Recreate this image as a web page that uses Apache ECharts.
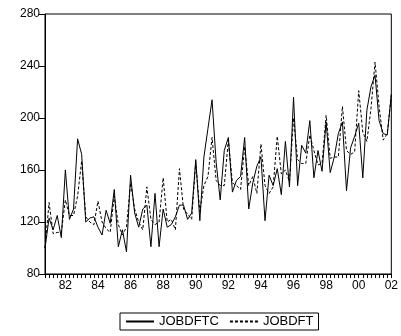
<!DOCTYPE html>
<html>
<head>
<meta charset="utf-8">
<script src="https://cdn.jsdelivr.net/npm/echarts@6/dist/echarts.min.js"></script>
<style>
  html, body { margin: 0; padding: 0; background: #fff; }
  #chart { width: 401px; height: 336px; }
</style>
</head>
<body>
<div id="chart"></div>
<script>
// Quarterly observations, 1980Q4 through 2002Q1
const startYear = 1980;
const startQuarter = 4;
const nObs = 86;

const jobdftc = [
  100, 123, 114, 125, 108, 160, 122, 130, 184, 172,
  120, 123, 124, 116, 110, 129, 119, 145, 101, 114,
  97, 156, 127, 116, 130, 133, 101, 142, 101, 130,
  116, 118, 124, 133, 133, 122, 127, 168, 121, 170,
  192, 214, 166, 137, 175, 185, 143, 152, 155, 185,
  130, 150, 163, 170, 121, 156, 148, 161, 141, 182,
  147, 216, 148, 179, 173, 198, 154, 175, 159, 197,
  158, 170, 188, 197, 144, 177, 186, 196, 154, 206,
  224, 233, 198, 188, 187, 218
];

const jobdft = [
  100, 135, 111, 112, 112, 137, 125, 125, 140, 167,
  124, 120, 118, 136, 120, 115, 112, 140, 118, 110,
  116, 150, 130, 120, 114, 147, 122, 118, 120, 154,
  120, 122, 114, 161, 130, 126, 122, 166, 128, 148,
  155, 185, 152, 148, 148, 183, 150, 148, 145, 178,
  148, 155, 142, 180, 148, 142, 147, 186, 157, 160,
  151, 200, 168, 165, 165, 187, 175, 164, 165, 202,
  169, 170, 170, 209, 175, 172, 174, 221, 189, 182,
  207, 243, 209, 183, 188, 218
];

const yTicks = [80, 120, 160, 200, 240, 280];

// Build quarter labels like "1982Q1"
const quarters = [];
for (let k = 0; k < nObs; k++) {
  const q0 = startQuarter - 1 + k;
  const y = startYear + Math.floor(q0 / 4);
  const q = (q0 % 4) + 1;
  quarters.push(y + 'Q' + q);
}

const chart = echarts.init(document.getElementById('chart'), null, { renderer: 'canvas' });

const font = 'Arial, "Liberation Sans", sans-serif';

chart.setOption({
  animation: false,
  backgroundColor: '#ffffff',
  grid: {
    left: 45, right: 6, top: 14, bottom: 62,
    show: true, borderColor: '#000', borderWidth: 1, backgroundColor: 'transparent'
  },
  xAxis: {
    type: 'category',
    data: quarters,
    boundaryGap: false,
    axisLine: { lineStyle: { color: '#000', width: 1 } },
    axisTick: {
      show: true, interval: 0, length: 4, inside: false,
      lineStyle: { color: '#000', width: 1 }
    },
    axisLabel: {
      interval: function (idx, val) {
        const y = parseInt(val.slice(0, 4), 10);
        return val.endsWith('Q1') && y % 2 === 0;
      },
      formatter: function (val) { return val.slice(2, 4); },
      color: '#000', fontFamily: font, fontSize: 12, margin: 6,
      hideOverlap: false
    },
    splitLine: { show: false }
  },
  yAxis: {
    type: 'value',
    min: yTicks[0],
    max: yTicks[yTicks.length - 1],
    interval: 40,
    axisLine: { show: true, lineStyle: { color: '#000', width: 1 } },
    axisTick: { show: true, length: 6, lineStyle: { color: '#000', width: 1 } },
    axisLabel: { color: '#000', fontFamily: font, fontSize: 12, margin: 5 },
    splitLine: { show: false }
  },
  legend: {
    left: 120,
    top: 313,
    orient: 'horizontal',
    borderColor: '#000',
    borderWidth: 1,
    padding: [2, 5, 2, 5],
    itemGap: 10,
    itemWidth: 28,
    itemHeight: 10,
    itemStyle: { opacity: 0 },
    textStyle: { color: '#000', fontFamily: font, fontSize: 13 },
    data: ['JOBDFTC', 'JOBDFT']
  },
  series: [
    {
      name: 'JOBDFTC',
      type: 'line',
      data: jobdftc,
      symbol: 'none',
      lineStyle: { color: '#000', width: 1, type: 'solid' },
      itemStyle: { color: '#000' }
    },
    {
      name: 'JOBDFT',
      type: 'line',
      data: jobdft,
      symbol: 'none',
      lineStyle: { color: '#000', width: 1, type: [3, 2] },
      itemStyle: { color: '#000' }
    }
  ]
});
</script>
</body>
</html>
